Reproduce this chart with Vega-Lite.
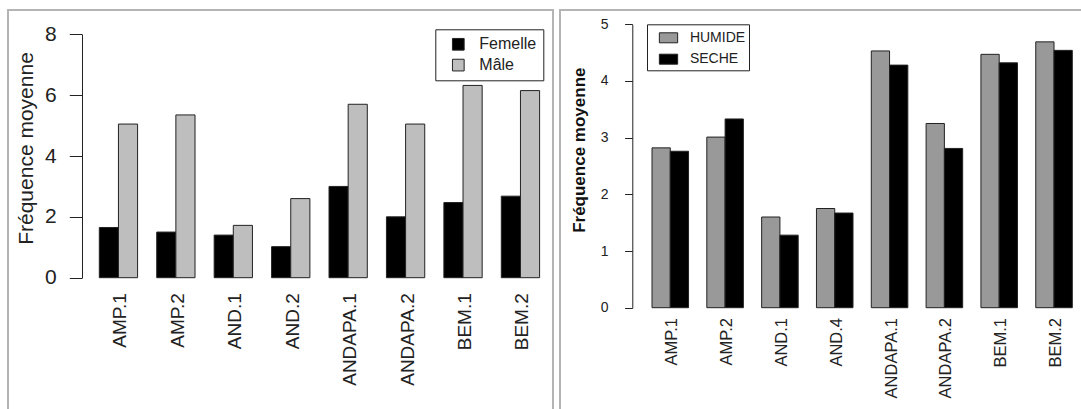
{
  "$schema": "https://vega.github.io/schema/vega-lite/v6.json",
  "background": "white",
  "padding": {"left": 7, "top": 9, "right": -10, "bottom": -10},
  "spacing": 5,
  "resolve": {"scale": {"color": "independent", "xOffset": "independent", "x": "independent", "y": "independent"}, "legend": {"color": "independent"}},
  "datasets": {
    "sexe": [
      {"site": "AMP.1", "sexe": "Femelle", "freq": 1.65},
      {"site": "AMP.1", "sexe": "Mâle", "freq": 5.05},
      {"site": "AMP.2", "sexe": "Femelle", "freq": 1.5},
      {"site": "AMP.2", "sexe": "Mâle", "freq": 5.35},
      {"site": "AND.1", "sexe": "Femelle", "freq": 1.4},
      {"site": "AND.1", "sexe": "Mâle", "freq": 1.72},
      {"site": "AND.2", "sexe": "Femelle", "freq": 1.02},
      {"site": "AND.2", "sexe": "Mâle", "freq": 2.6},
      {"site": "ANDAPA.1", "sexe": "Femelle", "freq": 3.0},
      {"site": "ANDAPA.1", "sexe": "Mâle", "freq": 5.7},
      {"site": "ANDAPA.2", "sexe": "Femelle", "freq": 2.0},
      {"site": "ANDAPA.2", "sexe": "Mâle", "freq": 5.05},
      {"site": "BEM.1", "sexe": "Femelle", "freq": 2.47},
      {"site": "BEM.1", "sexe": "Mâle", "freq": 6.32},
      {"site": "BEM.2", "sexe": "Femelle", "freq": 2.68},
      {"site": "BEM.2", "sexe": "Mâle", "freq": 6.15}
    ],
    "saison": [
      {"site": "AMP.1", "saison": "HUMIDE", "freq": 2.82},
      {"site": "AMP.1", "saison": "SECHE", "freq": 2.76},
      {"site": "AMP.2", "saison": "HUMIDE", "freq": 3.01},
      {"site": "AMP.2", "saison": "SECHE", "freq": 3.33},
      {"site": "AND.1", "saison": "HUMIDE", "freq": 1.6},
      {"site": "AND.1", "saison": "SECHE", "freq": 1.28},
      {"site": "AND.4", "saison": "HUMIDE", "freq": 1.75},
      {"site": "AND.4", "saison": "SECHE", "freq": 1.67},
      {"site": "ANDAPA.1", "saison": "HUMIDE", "freq": 4.53},
      {"site": "ANDAPA.1", "saison": "SECHE", "freq": 4.28},
      {"site": "ANDAPA.2", "saison": "HUMIDE", "freq": 3.25},
      {"site": "ANDAPA.2", "saison": "SECHE", "freq": 2.81},
      {"site": "BEM.1", "saison": "HUMIDE", "freq": 4.47},
      {"site": "BEM.1", "saison": "SECHE", "freq": 4.32},
      {"site": "BEM.2", "saison": "HUMIDE", "freq": 4.69},
      {"site": "BEM.2", "saison": "SECHE", "freq": 4.54}
    ]
  },
  "hconcat": [
    {
      "data": {"name": "sexe"},
      "width": 545,
      "height": 410,
      "mark": {"type": "bar", "stroke": "#222222", "strokeWidth": 1},
      "encoding": {
        "x": {
          "field": "site",
          "type": "nominal",
          "sort": ["AMP.1", "AMP.2", "AND.1", "AND.2", "ANDAPA.1", "ANDAPA.2", "BEM.1", "BEM.2"],
          "scale": {"range": [91.3, 531.6], "paddingInner": 0.3333, "paddingOuter": 0},
          "axis": {
            "orient": "bottom",
            "offset": -127.3,
            "title": null,
            "domain": false,
            "ticks": false,
            "labelAngle": -90,
            "labelAlign": "right",
            "labelBaseline": "middle",
            "labelPadding": 0,
            "labelOffset": 2,
            "labelFontSize": 19,
            "labelColor": "#222222"
          }
        },
        "xOffset": {"field": "sexe", "type": "nominal", "sort": ["Femelle", "Mâle"]},
        "y": {
          "field": "freq",
          "type": "quantitative",
          "scale": {"domain": [0, 8], "range": [267.7, 24.3], "nice": false},
          "axis": {
            "offset": -74,
            "values": [0, 2, 4, 6, 8],
            "grid": false,
            "domainColor": "#222222",
            "tickColor": "#222222",
            "tickSize": 12.7,
            "labelPadding": 13,
            "labelFontSize": 21,
            "labelColor": "#222222",
            "title": "Fréquence moyenne",
            "titleFontSize": 21,
            "titleFontWeight": "normal",
            "titleColor": "#222222",
            "titleX": -56,
            "titleY": 138,
            "titleAngle": -90,
            "titleAlign": "center",
            "titleBaseline": "middle"
          }
        },
        "color": {
          "field": "sexe",
          "type": "nominal",
          "scale": {"domain": ["Femelle", "Mâle"], "range": ["#000000", "#bebebe"]},
          "legend": {
            "orient": "none",
            "legendX": 427.3,
            "legendY": 19.3,
            "title": null,
            "strokeColor": "#222222",
            "fillColor": "white",
            "padding": 7,
            "symbolType": "square",
            "symbolSize": 137,
            "symbolStrokeColor": "#222222",
            "symbolStrokeWidth": 1,
            "symbolOffset": 8,
            "labelOffset": 13,
            "rowPadding": 4.8,
            "labelFontSize": 16,
            "labelColor": "#222222"
          }
        }
      }
    },
    {
      "data": {"name": "saison"},
      "width": 534,
      "height": 410,
      "mark": {"type": "bar", "stroke": "#222222", "strokeWidth": 1},
      "encoding": {
        "x": {
          "field": "site",
          "type": "nominal",
          "sort": ["AMP.1", "AMP.2", "AND.1", "AND.4", "ANDAPA.1", "ANDAPA.2", "BEM.1", "BEM.2"],
          "scale": {"range": [92, 512.3], "paddingInner": 0.3333, "paddingOuter": 0},
          "axis": {
            "orient": "bottom",
            "offset": -102.5,
            "title": null,
            "domain": false,
            "ticks": false,
            "labelAngle": -90,
            "labelAlign": "right",
            "labelBaseline": "middle",
            "labelPadding": 0,
            "labelOffset": 2,
            "labelFontSize": 16.5,
            "labelColor": "#222222"
          }
        },
        "xOffset": {"field": "saison", "type": "nominal", "sort": ["HUMIDE", "SECHE"]},
        "y": {
          "field": "freq",
          "type": "quantitative",
          "scale": {"domain": [0, 5], "range": [297.7, 14.3], "nice": false},
          "axis": {
            "offset": -72.3,
            "values": [0, 1, 2, 3, 4, 5],
            "grid": false,
            "domainColor": "#222222",
            "tickColor": "#222222",
            "tickSize": 7.7,
            "labelPadding": 16.5,
            "labelFontSize": 14,
            "labelColor": "#222222",
            "title": "Fréquence moyenne",
            "titleFontSize": 17,
            "titleFontWeight": "bold",
            "titleColor": "#111111",
            "titleX": -53,
            "titleY": 139.7,
            "titleAngle": -90,
            "titleAlign": "center",
            "titleBaseline": "middle"
          }
        },
        "color": {
          "field": "saison",
          "type": "nominal",
          "scale": {"domain": ["HUMIDE", "SECHE"], "range": ["#999999", "#000000"]},
          "legend": {
            "orient": "none",
            "legendX": 87,
            "legendY": 14.3,
            "title": null,
            "strokeColor": "#222222",
            "fillColor": "white",
            "padding": 3.5,
            "symbolType": "M-1,-0.546H1V0.546H-1Z",
            "symbolSize": 335,
            "symbolStrokeColor": "#222222",
            "symbolStrokeWidth": 1,
            "symbolOffset": 8,
            "labelOffset": 11.4,
            "rowPadding": 4.4,
            "labelFontSize": 14,
            "labelColor": "#222222"
          }
        }
      }
    }
  ],
  "config": {
    "font": "Liberation Sans",
    "view": {"stroke": "#b4b4b4", "strokeWidth": 2},
    "axis": {"labelFont": "Liberation Sans", "titleFont": "Liberation Sans"},
    "legend": {"labelFont": "Liberation Sans"}
  }
}
